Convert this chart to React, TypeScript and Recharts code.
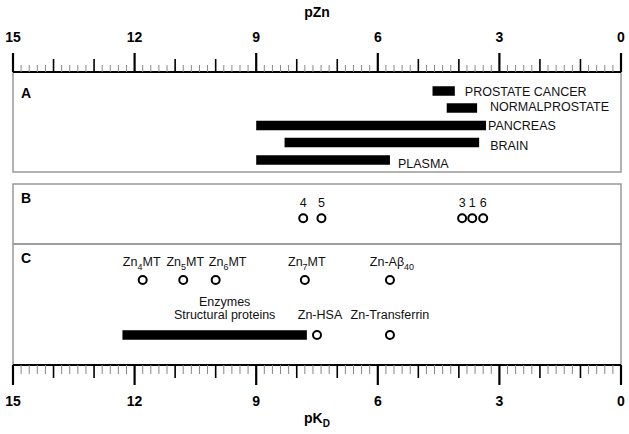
import React from 'react';
import { ComposedChart, XAxis, YAxis, Scatter, ReferenceArea } from 'recharts';

const FONT = 'Arial, "Liberation Sans", Helvetica, sans-serif';

// A - free zinc (pZn) ranges in tissues
const TISSUES = ['PROSTATE CANCER', 'NORMALPROSTATE', 'PANCREAS', 'BRAIN', 'PLASMA'];
const TISSUE_LOW = [4.1, 3.55, 3.33, 3.5, 5.7];
const TISSUE_HIGH = [4.65, 4.3, 9.0, 8.3, 9.0];

// B - numbered compounds (pKD)
const COMPOUNDS = ['4', '5', '3', '1', '6'];
const COMPOUND_PKD = [7.84, 7.39, 3.92, 3.67, 3.4];

// C - zinc proteins (pKD), _{..} = subscript
const COMPLEXES = ['Zn_{4}MT', 'Zn_{5}MT', 'Zn_{6}MT', 'Zn_{7}MT', 'Zn-A\u03b2_{40}'];
const COMPLEX_PKD = [11.8, 10.8, 10.0, 7.8, 5.7];
const SERUM = ['Zn-HSA', 'Zn-Transferrin'];
const SERUM_PKD = [7.5, 5.7];
const PROTEIN_LINES = ['Enzymes', 'Structural proteins'];
const PROTEIN_LOW = 7.75;
const PROTEIN_HIGH = 12.3;

// axis ticks every 0.2, long ticks every 1, labelled every 3
const AXIS_TICKS = Array.from({ length: 76 }, (_, i) => i / 5);

// layout (vertical offsets inside the plot, px)
const PLOT_H = 293;
const PANELS = [
  { id: 'A', top: 0, bottom: 100, letterY: 26 },
  { id: 'B', top: 112, bottom: 172, letterY: 19 },
  { id: 'C', top: 172, bottom: 293, letterY: 19 },
];
const TISSUE_ROWS = [19, 36, 53.5, 70.5, 88];
const TISSUE_LABEL_DX = [10, 13, 2, 11, 8];
const TISSUE_LABEL_DY = [0, -2, 0, 3, 3];
const BAR_H = 9.5;
const ROW_B = 146.3;
const ROW_C1 = 208;
const ROW_C2 = 263;
const COMPLEX_LABEL_DX = [-1, 2, 12, 2, 2];

// tissue names sit just right of each bar's low-pZn end
const tissueLabelData = TISSUES.map((n, i) => ({ pkd: TISSUE_LOW[i], row: TISSUE_ROWS[i], name: n, ldx: TISSUE_LABEL_DX[i], ldy: TISSUE_LABEL_DY[i] + 4.5 }));
const compoundData = COMPOUNDS.map((n, i) => ({ pkd: COMPOUND_PKD[i], row: ROW_B, name: n, ldx: 0, ldy: -11 }));
const complexData = COMPLEXES.map((n, i) => ({ pkd: COMPLEX_PKD[i], row: ROW_C1, name: n, ldx: COMPLEX_LABEL_DX[i], ldy: -14 }));
const serumData = SERUM.map((n, i) => ({ pkd: SERUM_PKD[i], row: ROW_C2, name: n, ldx: i === 0 ? 3 : 0, ldy: -16.5 }));

function SubText({ s }: { s: string }) {
  const parts = s.split(/_\{([^}]*)\}/);
  return (
    <>
      {parts.map((p, i) =>
        i % 2 ? (
          <tspan key={i} dy={3.5} fontSize={9}>{p}</tspan>
        ) : (
          <tspan key={i} dy={i ? -3.5 : 0}>{p}</tspan>
        )
      )}
    </>
  );
}

function Ring(props: any) {
  const { cx, cy, payload } = props;
  return (
    <g>
      <circle cx={cx} cy={cy} r={4} fill="none" stroke="#000" strokeWidth={2} />
      <text x={cx + payload.ldx} y={cy + payload.ldy} textAnchor="middle" fontSize={12.5} fontFamily={FONT} fill="#111">
        <SubText s={payload.name} />
      </text>
    </g>
  );
}

function TissueName(props: any) {
  const { cx, cy, payload } = props;
  return (
    <text x={cx + payload.ldx} y={cy + payload.ldy} fontSize={12.5} fontFamily={FONT} fill="#111">
      {payload.name}
    </text>
  );
}

function tickKind(v: number) {
  const k = Math.round(v * 5);
  return k % 15 === 0 ? 'major' : k % 5 === 0 ? 'medium' : 'minor';
}

function TopTick({ x, y, payload }: any) {
  const kind = tickKind(payload.value);
  const len = kind === 'major' ? 19 : kind === 'medium' ? 13 : 7;
  return (
    <g>
      <line x1={x} x2={x} y1={y} y2={y - len} stroke={kind === 'minor' ? '#888' : '#000'} strokeWidth={kind === 'major' ? 2.2 : kind === 'medium' ? 1.6 : 1} />
      {kind === 'major' && (
        <text x={x} y={y - 30.5} textAnchor="middle" fontSize={14} fontWeight="bold" fontFamily={FONT} fill="#000">
          {Math.round(payload.value)}
        </text>
      )}
    </g>
  );
}

function BottomTick({ x, y, payload }: any) {
  const kind = tickKind(payload.value);
  const len = kind === 'major' ? 20 : kind === 'medium' ? 13 : 9;
  return (
    <g>
      <line x1={x} x2={x} y1={y} y2={y + len} stroke={kind === 'minor' ? '#888' : '#000'} strokeWidth={kind === 'major' ? 2.2 : kind === 'medium' ? 1.6 : 1} />
      {kind === 'major' && (
        <text x={x} y={y + 41} textAnchor="middle" fontSize={14} fontWeight="bold" fontFamily={FONT} fill="#000">
          {Math.round(payload.value)}
        </text>
      )}
    </g>
  );
}

function TopTitle({ viewBox }: any) {
  const { x, y, width } = viewBox;
  return (
    <text x={x + width / 2} y={y + 17} textAnchor="middle" fontSize={14} fontWeight="bold" fontFamily={FONT}>pZn</text>
  );
}

function BottomTitle({ viewBox }: any) {
  const { x, y, width } = viewBox;
  return (
    <text x={x + width / 2} y={y + 58} textAnchor="middle" fontSize={14} fontWeight="bold" fontFamily={FONT}>
      pK<tspan dy={4} fontSize={10}>D</tspan>
    </text>
  );
}

function PanelLetter({ viewBox, letter, offY }: any) {
  return (
    <text x={viewBox.x + 8} y={viewBox.y + offY} fontSize={14} fontWeight="bold" fontFamily={FONT}>{letter}</text>
  );
}

function ProteinLabel({ viewBox }: any) {
  const cx = viewBox.x + viewBox.width / 2 + 10;
  const cy = viewBox.y + viewBox.height / 2;
  return (
    <text textAnchor="middle" fontSize={12.5} fontFamily={FONT} fill="#111">
      <tspan x={cx} y={cy - 29.5}>{PROTEIN_LINES[0]}</tspan>
      <tspan x={cx} y={cy - 16.2}>{PROTEIN_LINES[1]}</tspan>
    </text>
  );
}

export default function App() {
  return (
    <div style={{ position: 'absolute', left: 0, top: 0, width: 629, height: 434, background: '#fff' }}>
      <ComposedChart width={629} height={434} margin={{ top: 0, right: 8, bottom: 0, left: 13 }}>
        {/* panel frames */}
        {PANELS.map((p) => (
          <ReferenceArea
            key={p.id}
            xAxisId="top"
            y1={p.top}
            y2={p.bottom}
            fill="none"
            stroke="#999"
            strokeWidth={1.5}
            label={<PanelLetter letter={p.id} offY={p.letterY} />}
          />
        ))}

        {/* A: tissue pZn ranges */}
        {TISSUES.map((t, i) => (
          <ReferenceArea
            key={t}
            xAxisId="top"
            x1={TISSUE_LOW[i]}
            x2={TISSUE_HIGH[i]}
            y1={TISSUE_ROWS[i] - BAR_H / 2}
            y2={TISSUE_ROWS[i] + BAR_H / 2}
            fill="#000"
            fillOpacity={1}
            stroke="none"
          />
        ))}
        <Scatter xAxisId="top" data={tissueLabelData} shape={<TissueName />} isAnimationActive={false} />

        {/* C: enzymes / structural proteins range */}
        <ReferenceArea
          xAxisId="bottom"
          x1={PROTEIN_LOW}
          x2={PROTEIN_HIGH}
          y1={ROW_C2 - BAR_H / 2}
          y2={ROW_C2 + BAR_H / 2}
          fill="#000"
          fillOpacity={1}
          stroke="none"
          label={<ProteinLabel />}
        />

        <Scatter xAxisId="bottom" data={compoundData} shape={<Ring />} isAnimationActive={false} />
        <Scatter xAxisId="bottom" data={complexData} shape={<Ring />} isAnimationActive={false} />
        <Scatter xAxisId="bottom" data={serumData} shape={<Ring />} isAnimationActive={false} />

        <YAxis dataKey="row" type="number" domain={[0, PLOT_H]} reversed hide allowDataOverflow />
        <XAxis
          xAxisId="top"
          dataKey="pkd"
          orientation="top"
          type="number"
          domain={[0, 15]}
          reversed
          allowDataOverflow
          ticks={AXIS_TICKS}
          interval={0}
          height={72}
          tickSize={0}
          tickMargin={0}
          tickLine={false}
          axisLine={{ stroke: '#000', strokeWidth: 2 }}
          tick={<TopTick />}
          label={<TopTitle />}
        />
        <XAxis
          xAxisId="bottom"
          dataKey="pkd"
          orientation="bottom"
          type="number"
          domain={[0, 15]}
          reversed
          allowDataOverflow
          ticks={AXIS_TICKS}
          interval={0}
          height={69}
          tickSize={0}
          tickMargin={0}
          tickLine={false}
          axisLine={{ stroke: '#000', strokeWidth: 2 }}
          tick={<BottomTick />}
          label={<BottomTitle />}
        />
      </ComposedChart>
    </div>
  );
}
